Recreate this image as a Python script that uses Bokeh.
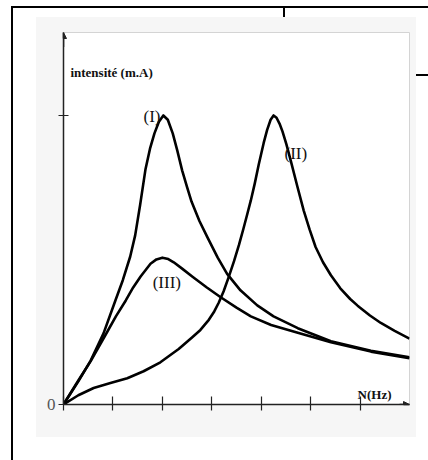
from bokeh.plotting import figure
from bokeh.models import Label, FixedTicker, Arrow, NormalHead, Range1d
from bokeh.embed import file_html
from bokeh.resources import INLINE

# ---- data (x: tick units, y: peak = 1) ----
curve1_x = [0.00, 0.30, 0.55, 0.81, 1.05, 1.20, 1.35, 1.45, 1.55, 1.66, 1.75, 1.84, 1.93, 2.02,
            2.11, 2.21, 2.30, 2.40, 2.50, 2.59, 2.75, 2.91, 3.12, 3.31, 3.58, 3.92, 4.25,
            4.74, 5.41, 6.22, 7.00]
curve1_y = [0.000, 0.080, 0.152, 0.246, 0.360, 0.430, 0.512, 0.585, 0.690, 0.815, 0.885, 0.938, 0.978, 1.000,
            0.985, 0.938, 0.880, 0.810, 0.752, 0.702, 0.635, 0.579, 0.508, 0.452, 0.395, 0.343, 0.305,
            0.264, 0.219, 0.186, 0.163]

curve2_x = [0.00, 0.30, 0.61, 0.95, 1.29, 1.62, 1.96, 2.33, 2.60, 2.77, 2.94, 3.05, 3.14, 3.24,
            3.34, 3.45, 3.55, 3.64, 3.72, 3.79, 3.87, 3.95, 4.05, 4.12, 4.19, 4.25, 4.31,
            4.37, 4.43, 4.51, 4.60, 4.73, 4.86, 4.98, 5.10, 5.25, 5.41, 5.60, 5.80, 5.95,
            6.20, 6.42, 6.70, 7.00]
curve2_y = [0.000, 0.032, 0.057, 0.074, 0.091, 0.115, 0.146, 0.192, 0.232, 0.258, 0.293, 0.322, 0.352, 0.392,
            0.440, 0.496, 0.552, 0.608, 0.660, 0.706, 0.765, 0.830, 0.905, 0.950, 0.985, 1.000, 0.992,
            0.972, 0.945, 0.900, 0.842, 0.755, 0.671, 0.605, 0.545, 0.492, 0.447, 0.402, 0.365, 0.342,
            0.308, 0.282, 0.255, 0.228]

curve3_x = [0.00, 0.30, 0.55, 0.88, 1.06, 1.26, 1.41, 1.56, 1.76, 1.88, 2.00, 2.12, 2.23, 2.40,
            2.61, 2.90, 3.18, 3.50, 3.79, 4.20, 4.74, 5.41, 6.22, 7.00]
curve3_y = [0.000, 0.083, 0.150, 0.250, 0.305, 0.360, 0.405, 0.443, 0.487, 0.502, 0.508, 0.503, 0.492, 0.470,
            0.442, 0.405, 0.371, 0.335, 0.305, 0.275, 0.248, 0.215, 0.183, 0.160]

curve_names = ["(I)", "(II)", "(III)"]
name_x = [1.79, 4.70, 2.09]
name_y = [0.998, 0.869, 0.422]

x_ticks = [0, 1, 2, 3, 4, 5, 6]
y_ticks = [0, 1]
y_tick_labels = {0: "0", 1: ""}
y_title = "intensité (m.A)"
x_title = "N(Hz)"

X_END = 7.0
Y_END = 1.287

W, H = 428, 460
p = figure(width=W, height=H, output_backend="svg", toolbar_location=None,
           x_range=Range1d(0, X_END), y_range=Range1d(0, Y_END),
           min_border_left=63, min_border_right=19, min_border_top=32, min_border_bottom=56)
p.border_fill_color = None
p.background_fill_color = "white"
p.outline_line_color = "#d4d4d4"
p.outline_line_width = 1
p.xgrid.visible = False
p.ygrid.visible = False

# page decoration behind the transparent canvas: grey panel and black scan frame lines
solid = lambda c: f"linear-gradient({c},{c})"
p.styles = {
    "background": ", ".join([
        f"{solid('#000')} 11px 6px / 2px 454px no-repeat",
        f"{solid('#000')} 11px 6px / 417px 2px no-repeat",
        f"{solid('#000')} 283px 6px / 2px 11px no-repeat",
        f"{solid('#000')} 416px 74px / 12px 2px no-repeat",
        f"{solid('#f6f6f6')} 36px 17px / 380px 420px no-repeat",
        "white",
    ])
}

for ax in (p.xaxis[0], p.yaxis[0]):
    ax.axis_line_color = "#222222"
    ax.axis_line_width = 1.5
    ax.major_tick_line_color = "#222222"
    ax.major_tick_line_width = 1.2
    ax.minor_tick_line_color = None

p.xaxis.ticker = FixedTicker(ticks=x_ticks)
p.xaxis.major_label_overrides = {t: "" for t in x_ticks}
p.xaxis.major_tick_in = 8
p.xaxis.major_tick_out = 6

p.yaxis.ticker = FixedTicker(ticks=y_ticks)
p.yaxis.major_label_overrides = y_tick_labels
p.yaxis.major_tick_in = 5
p.yaxis.major_tick_out = 5
p.yaxis.major_label_standoff = 3
p.yaxis.major_label_text_font = "Liberation Serif"
p.yaxis.major_label_text_font_size = "17px"
p.yaxis.major_label_text_color = "#555555"

for xs, ys in ((curve1_x, curve1_y), (curve2_x, curve2_y), (curve3_x, curve3_y)):
    p.line(xs, ys, line_color="black", line_width=2.6, line_join="round")

for t, x, y in zip(curve_names, name_x, name_y):
    p.add_layout(Label(x=x, y=y, text=t, text_align="center", text_baseline="middle",
                       text_font="Liberation Serif", text_font_size="17px", text_color="#111111"))

p.add_layout(Label(x=0.14, y=1.149, text=y_title, text_align="left", text_baseline="middle",
                   text_font="Liberation Serif", text_font_size="13px", text_font_style="bold",
                   text_color="#111111"))
p.add_layout(Label(x=5.95, y=0.01, text=x_title, text_align="left", text_baseline="bottom",
                   text_font="Liberation Serif", text_font_size="13px", text_font_style="bold",
                   text_color="#111111"))

# axis arrow heads
p.add_layout(Arrow(end=NormalHead(size=6, fill_color="#222222", line_color="#222222"),
                   line_color="#222222", line_width=1.5,
                   x_start=X_END - 0.2, y_start=0, x_end=X_END, y_end=0))
p.add_layout(Arrow(end=NormalHead(size=6, fill_color="#222222", line_color="#222222"),
                   line_color="#222222", line_width=1.5,
                   x_start=0, y_start=Y_END - 0.05, x_end=0, y_end=Y_END))

open("out.html", "w").write(file_html(p, INLINE))
